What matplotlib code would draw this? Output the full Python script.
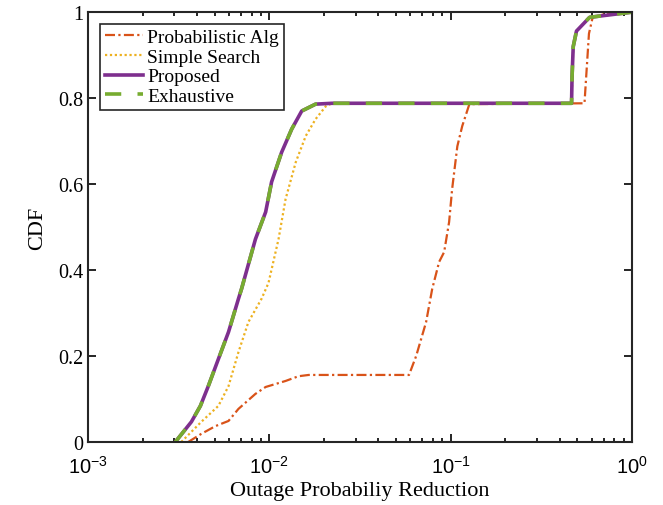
import numpy as np
import matplotlib
matplotlib.use('Agg')
import matplotlib.pyplot as plt
from matplotlib.ticker import LogLocator, FuncFormatter, NullFormatter

plt.rcParams['font.family'] = ['Liberation Serif', 'DejaVu Serif']
plt.rcParams['mathtext.fontset'] = 'custom'
plt.rcParams['mathtext.sf'] = 'Liberation Sans'

# data
prob_x = [0.00357, 0.00422, 0.00505, 0.00596, 0.00676, 0.00839, 0.00955, 0.0123, 0.0145, 0.0165,
          0.059, 0.0646, 0.0733, 0.0792, 0.0865, 0.0922, 0.0982, 0.102, 0.109, 0.116, 0.127,
          0.548, 0.56, 0.58, 0.608, 0.7, 1.0]
prob_y = [0, 0.019, 0.037, 0.049, 0.077, 0.112, 0.128, 0.142, 0.153, 0.156,
          0.156, 0.2, 0.279, 0.356, 0.419, 0.442, 0.512, 0.588, 0.688, 0.735, 0.786,
          0.788, 0.85, 0.95, 0.988, 0.995, 1.0]

simple_x = [0.00327, 0.00422, 0.00524, 0.00596, 0.00676, 0.00767, 0.00906, 0.0099, 0.01125,
            0.0123, 0.0140, 0.0159, 0.018, 0.0205, 0.0222, 0.465, 0.475, 0.495, 0.585, 1.0]
simple_y = [0, 0.047, 0.084, 0.13, 0.209, 0.279, 0.333, 0.37, 0.472,
            0.565, 0.651, 0.712, 0.751, 0.781, 0.788, 0.788, 0.92, 0.956, 0.988, 1.0]

prop_x = [0.00303, 0.00372, 0.00417, 0.00461, 0.00524, 0.00596, 0.00676, 0.00703, 0.00839,
          0.00955, 0.0103, 0.0117, 0.0133, 0.0151, 0.018, 0.0222, 0.465, 0.468, 0.475, 0.495,
          0.585, 1.0]
prop_y = [0, 0.047, 0.084, 0.13, 0.193, 0.256, 0.333, 0.356, 0.472,
          0.535, 0.605, 0.674, 0.728, 0.770, 0.786, 0.788, 0.788, 0.85, 0.92, 0.956,
          0.988, 1.0]

exh_x = [0.00303, 0.00372, 0.00417, 0.00461, 0.00524, 0.00596, 0.00676, 0.00703, 0.00839,
         0.00955, 0.0103, 0.0117, 0.0133, 0.0151, 0.018, 0.0222, 0.465, 0.468, 0.475, 0.495,
         0.585, 1.0]
exh_y = [0, 0.047, 0.084, 0.13, 0.193, 0.256, 0.333, 0.356, 0.472,
         0.535, 0.605, 0.674, 0.728, 0.770, 0.786, 0.788, 0.788, 0.85, 0.92, 0.956,
         0.988, 1.0]

fig = plt.figure(figsize=(6.63, 5.06), dpi=100)
ax = fig.add_axes([0.1327, 0.1245, 0.8203, 0.8495])

ax.plot(prob_x, prob_y, color='#D95319', lw=1.6, dashes=(4.5, 1.5, 1, 1.5), label='Probabilistic Alg')
ax.plot(simple_x, simple_y, color='#EDB120', lw=1.6, dashes=(1, 1.2), label='Simple Search')
ax.plot(prop_x, prop_y, color='#7E2F8E', lw=2.6, label='Proposed')
ax.plot(exh_x, exh_y, color='#77AC30', lw=2.6, dashes=(4.5, 4.5), label='Exhaustive')

ax.set_xscale('log')
ax.set_xlim(1e-3, 1)
ax.set_ylim(0, 1)
ax.xaxis.set_major_locator(LogLocator(base=10, numticks=10))
ax.xaxis.set_minor_locator(LogLocator(base=10, subs=np.arange(2, 10), numticks=20))
ax.xaxis.set_minor_formatter(NullFormatter())
ax.xaxis.set_major_formatter(FuncFormatter(
    lambda v, p: r'$\mathsf{10^{%d}}$' % int(round(np.log10(v)))))
ax.set_yticks([0, 0.2, 0.4, 0.6, 0.8, 1])
ax.set_yticklabels(['0', '0.2', '0.4', '0.6', '0.8', '1'])

ax.tick_params(which='both', direction='in', top=True, right=True, width=1.2)
ax.tick_params(which='major', length=6, labelsize=14.5)
ax.tick_params(which='minor', length=3)
ax.tick_params(axis='x', pad=10)
for s in ax.spines.values():
    s.set_linewidth(1.5)
    s.set_color('#262626')

ax.set_xlabel('Outage Probabiliy Reduction', fontsize=16, labelpad=2)
ax.set_ylabel('CDF', fontsize=16, labelpad=8)

leg = ax.legend(loc='upper left', fontsize=14, handlelength=2.0, handletextpad=0.2,
                labelspacing=0.1, borderpad=0.25, fancybox=False, framealpha=1,
                borderaxespad=0.6)
leg.get_frame().set_edgecolor('#262626')
leg.get_frame().set_linewidth(1.2)

fig.savefig('out.png', dpi=100)
